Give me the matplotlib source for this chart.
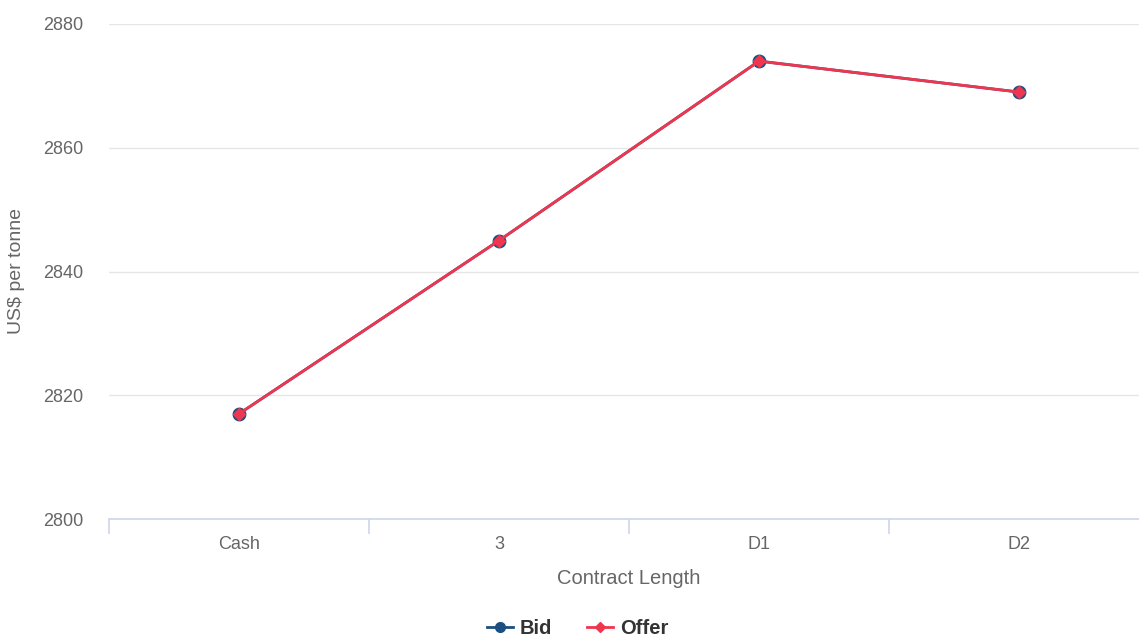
import matplotlib
matplotlib.use("Agg")
import matplotlib.pyplot as plt
from matplotlib.lines import Line2D

# data
contracts = ["Cash", "3", "D1", "D2"]
bid = [2817, 2845, 2874, 2869]
offer = [2817, 2845, 2874, 2869]
y_ticks = [2800, 2820, 2840, 2860, 2880]

bid_col = "#1c4f80"
offer_col = "#f0364f"

plt.rcParams["font.family"] = ["Liberation Sans", "DejaVu Sans"]

fig = plt.figure(figsize=(11.39, 6.39), dpi=100)
ax = fig.add_axes([109 / 1139, 1 - 519 / 639, 1040 / 1139, 495 / 639])

x = list(range(len(contracts)))
ax.plot(x, bid, color=bid_col, lw=2, marker="o", ms=9, mfc=bid_col, mec=bid_col, zorder=3)
ax.plot(x, offer, color=offer_col, lw=2, marker="D", ms=6, mfc=offer_col, mec=offer_col, zorder=4)

ax.set_xlim(-0.5, len(contracts) - 0.5)
ax.set_ylim(2800, 2880)
ax.set_yticks(y_ticks)
ax.set_xticks(x)
ax.set_xticklabels(contracts)
ax.set_xticks([i - 0.5 for i in range(len(contracts) + 1)], minor=True)

ax.grid(axis="y", color="#e6e6e6", lw=1)
ax.set_axisbelow(True)
for s in ["top", "right", "left"]:
    ax.spines[s].set_visible(False)
ax.spines["bottom"].set_color("#ccd6eb")
ax.spines["bottom"].set_linewidth(1.2)

ax.tick_params(axis="y", length=0, pad=18.5, labelsize=13, labelcolor="#666666")
ax.tick_params(axis="x", which="major", length=0, pad=12, labelsize=13, labelcolor="#666666")
ax.tick_params(axis="x", which="minor", length=11, width=1.2, color="#ccd6eb", direction="out")

ax.set_xlabel("Contract Length", fontsize=14.5, color="#666666", labelpad=12)
ax.set_ylabel("US$ per tonne", fontsize=14, color="#666666", labelpad=13)

handles = [
    Line2D([], [], color=bid_col, lw=2, marker="o", ms=7, label="Bid"),
    Line2D([], [], color=offer_col, lw=2, marker="D", ms=5, label="Offer"),
]
# legend sits at the very bottom edge, like the reference
fig.legend(handles=handles, loc="center", bbox_to_anchor=(0.507, 1 - 629 / 639), ncol=2,
           frameon=False, handlelength=1.3, handletextpad=0.35, columnspacing=1.7,
           borderpad=0.1, prop={"weight": "bold", "size": 14.5})
for t in fig.legends[0].get_texts():
    t.set_color("#333333")

fig.savefig("out.png", dpi=100)
